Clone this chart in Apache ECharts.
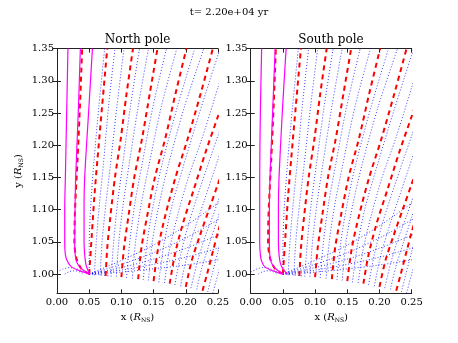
<!DOCTYPE html>
<html>
<head>
    <meta charset="utf-8">
    <title>ECharts</title>
    <script src="https://cdn.jsdelivr.net/npm/echarts@6/dist/echarts.min.js"></script>
</head>
<body style="margin:0;background:#fff;">
    <div id="main" style="width:458px;height:343px;"></div>
    <script type="text/javascript">
        // tick labels
        var xTicks = [0.00, 0.05, 0.10, 0.15, 0.20, 0.25];
        var yTicks = [1.00, 1.05, 1.10, 1.15, 1.20, 1.25, 1.30, 1.35];

        // red dashed field lines, [x, y] in R_NS
        var redLines = [
            [[0.050,1.000],[0.038,1.008],[0.030,1.025],[0.027,1.05],[0.028,1.10],[0.032,1.18],[0.036,1.27],[0.039,1.35]],
            [[0.050,1.000],[0.054,1.06],[0.058,1.12],[0.063,1.18],[0.070,1.26],[0.078,1.35]],
            [[0.0756,0.997],[0.078,1.04],[0.083,1.09],[0.090,1.15],[0.099,1.21],[0.108,1.28],[0.118,1.35]],
            [[0.100,0.995],[0.104,1.04],[0.111,1.09],[0.120,1.15],[0.132,1.21],[0.144,1.28],[0.156,1.35]],
            [[0.126,0.992],[0.131,1.04],[0.140,1.09],[0.152,1.15],[0.168,1.21],[0.184,1.28],[0.201,1.35]],
            [[0.150,0.989],[0.157,1.04],[0.168,1.09],[0.184,1.15],[0.203,1.21],[0.223,1.28],[0.242,1.35]],
            [[0.175,0.985],[0.183,1.03],[0.196,1.08],[0.212,1.13],[0.231,1.19],[0.250,1.245],[0.260,1.275]],
            [[0.200,0.980],[0.209,1.02],[0.222,1.06],[0.236,1.10],[0.250,1.14],[0.260,1.17]],
            [[0.226,0.974],[0.233,1.00],[0.242,1.035],[0.250,1.065],[0.260,1.10]]
        ];

        // blue dotted field lines rising from the surface
        var blueLines = [
            [[0.050,1.000],[0.050,1.04],[0.052,1.10],[0.057,1.17],[0.065,1.26],[0.074,1.35]],
            [[0.058,0.998],[0.061,1.05],[0.066,1.11],[0.072,1.17],[0.080,1.26],[0.090,1.35]],
            [[0.067,0.998],[0.070,1.05],[0.076,1.11],[0.083,1.17],[0.093,1.26],[0.104,1.35]],
            [[0.084,0.996],[0.088,1.05],[0.094,1.11],[0.102,1.17],[0.114,1.26],[0.128,1.35]],
            [[0.092,0.996],[0.096,1.05],[0.103,1.11],[0.112,1.17],[0.126,1.26],[0.142,1.35]],
            [[0.108,0.994],[0.113,1.05],[0.121,1.11],[0.132,1.17],[0.149,1.26],[0.170,1.35]],
            [[0.117,0.993],[0.122,1.05],[0.131,1.11],[0.143,1.17],[0.162,1.26],[0.186,1.35]],
            [[0.134,0.991],[0.140,1.05],[0.150,1.11],[0.163,1.17],[0.187,1.26],[0.214,1.35]],
            [[0.142,0.990],[0.148,1.05],[0.159,1.11],[0.173,1.17],[0.198,1.26],[0.228,1.35]],
            [[0.158,0.987],[0.165,1.04],[0.177,1.10],[0.194,1.16],[0.215,1.23],[0.237,1.30],[0.250,1.34],[0.260,1.37]],
            [[0.167,0.986],[0.174,1.035],[0.187,1.09],[0.204,1.15],[0.225,1.21],[0.244,1.27],[0.250,1.29],[0.260,1.32]],
            [[0.183,0.983],[0.192,1.03],[0.205,1.08],[0.221,1.13],[0.238,1.18],[0.250,1.215],[0.260,1.245]],
            [[0.192,0.981],[0.201,1.025],[0.214,1.07],[0.229,1.115],[0.244,1.16],[0.250,1.178],[0.260,1.21]],
            [[0.208,0.978],[0.217,1.015],[0.229,1.055],[0.242,1.09],[0.250,1.113],[0.260,1.14]],
            [[0.217,0.976],[0.225,1.01],[0.236,1.045],[0.250,1.088],[0.260,1.12]],
            [[0.234,0.972],[0.241,1.00],[0.250,1.035],[0.260,1.07]],
            [[0.242,0.970],[0.250,1.00],[0.260,1.035]]
        ];

        // blue dotted lines fanning right from the footpoint near x = 0.05
        var fanLines = [
            [[0.050,1.000],[0.065,0.999],[0.080,0.997]],
            [[0.050,1.000],[0.100,1.003],[0.150,1.008],[0.200,1.014],[0.250,1.022],[0.260,1.024]],
            [[0.050,1.000],[0.100,1.006],[0.150,1.015],[0.200,1.026],[0.250,1.040],[0.260,1.043]],
            [[0.050,1.000],[0.100,1.010],[0.150,1.023],[0.200,1.040],[0.250,1.060],[0.260,1.064]],
            [[0.050,1.000],[0.100,1.015],[0.150,1.033],[0.200,1.056],[0.250,1.084],[0.260,1.090]],
            [[0.050,1.000],[0.100,1.021],[0.150,1.045],[0.200,1.075],[0.250,1.110],[0.260,1.118]]
        ];

        // low closed loops left of the footpoint
        var loopLines = [
            [[0.000,1.003],[0.010,1.008],[0.020,1.010],[0.030,1.008],[0.040,1.004],[0.050,1.000]],
            [[0.012,1.000],[0.020,1.004],[0.028,1.005],[0.036,1.003],[0.042,1.000]]
        ];

        // magenta solid lines
        var northMagenta = [
            [[0.0497,1.000],[0.035,1.005],[0.0224,1.011],[0.016,1.02],[0.013,1.03],[0.012,1.048],[0.012,1.10],[0.013,1.15],[0.015,1.25],[0.017,1.35]],
            [[0.050,1.000],[0.042,1.005],[0.0352,1.011],[0.031,1.018],[0.029,1.024],[0.0275,1.042],[0.028,1.10],[0.029,1.15],[0.033,1.25],[0.0363,1.35]],
            [[0.051,1.000],[0.047,1.008],[0.0446,1.0166],[0.043,1.03],[0.042,1.05],[0.042,1.10],[0.043,1.15],[0.049,1.25],[0.055,1.35]]
        ];
        var southMagenta = [
            [[0.048,1.000],[0.034,1.005],[0.022,1.011],[0.017,1.02],[0.015,1.03],[0.014,1.048],[0.014,1.10],[0.014,1.15],[0.015,1.25],[0.017,1.35]],
            [[0.0506,1.000],[0.043,1.005],[0.036,1.011],[0.032,1.018],[0.030,1.026],[0.029,1.045],[0.029,1.10],[0.030,1.15],[0.034,1.25],[0.038,1.35]],
            [[0.057,1.000],[0.050,1.008],[0.046,1.017],[0.044,1.03],[0.043,1.05],[0.043,1.10],[0.044,1.15],[0.049,1.25],[0.055,1.35]]
        ];

        var myChart = echarts.init(document.getElementById('main'));
        var serif = 'DejaVu Serif';
        var lineCol = '#222';

        var grids = [
            {left: 57, top: 48.6, width: 161, height: 244.7},
            {left: 250.7, top: 48.6, width: 161, height: 244.7}
        ];

        var nameStyle = {fontFamily: serif, fontSize: 10, color: '#000',
            rich: {i: {fontFamily: serif, fontStyle: 'italic', fontSize: 10, color: '#000'},
                   s: {fontFamily: serif, fontSize: 6, color: '#000', verticalAlign: 'bottom', padding: [6, 0, 0, 0]}}};

        var xAxes = [], yAxes = [];
        for (var g = 0; g < 2; g++) {
            xAxes.push({
                type: 'value', gridIndex: g, min: 0, max: 0.25, interval: 0.05,
                position: 'bottom',
                name: 'x ({i|R}{s|NS})', nameLocation: 'middle', nameGap: 17,
                nameTextStyle: nameStyle,
                axisLine: {show: true, lineStyle: {color: lineCol, width: 1}},
                axisTick: {inside: true, length: 4, lineStyle: {color: lineCol}},
                axisLabel: {fontFamily: serif, fontSize: 10, color: '#000', margin: 4,
                    formatter: function (v) { return v.toFixed(2); }},
                splitLine: {show: false}
            });
            xAxes.push({
                type: 'value', gridIndex: g, min: 0, max: 0.25, interval: 0.05,
                position: 'top',
                axisLine: {show: true, lineStyle: {color: lineCol, width: 1}},
                axisTick: {inside: true, length: 4, lineStyle: {color: lineCol}},
                axisLabel: {show: false},
                splitLine: {show: false}
            });
            yAxes.push({
                type: 'value', gridIndex: g, min: 0.97, max: 1.35,
                position: 'left',
                name: g === 0 ? 'y ({i|R}{s|NS})' : '', nameLocation: 'middle', nameGap: 33,
                nameTextStyle: nameStyle,
                axisLine: {show: true, lineStyle: {color: lineCol, width: 1}},
                axisTick: {inside: true, length: 4, customValues: yTicks, lineStyle: {color: lineCol}},
                axisLabel: {fontFamily: serif, fontSize: 10, color: '#000', margin: 3, customValues: yTicks,
                    formatter: function (v) { return v.toFixed(2); }},
                splitLine: {show: false}
            });
            yAxes.push({
                type: 'value', gridIndex: g, min: 0.97, max: 1.35,
                position: 'right',
                axisLine: {show: true, lineStyle: {color: lineCol, width: 1}},
                axisTick: {inside: true, length: 4, customValues: yTicks, lineStyle: {color: lineCol}},
                axisLabel: {show: false},
                splitLine: {show: false}
            });
        }

        var series = [];
        function addLines(lines, g, style) {
            lines.forEach(function (pts) {
                series.push({
                    type: 'line', xAxisIndex: g * 2, yAxisIndex: g * 2,
                    data: pts, showSymbol: false, smooth: 0.3, silent: true,
                    clip: true, lineStyle: style
                });
            });
        }
        var blueStyle = {color: 'rgba(0,0,255,0.75)', width: 1, type: [1, 2]};
        var redStyle = {color: '#ff0000', width: 2, type: [5, 4]};
        var magStyle = {color: '#ff00ff', width: 1.2, type: 'solid'};

        for (var p = 0; p < 2; p++) {
            addLines(blueLines, p, blueStyle);
            addLines(fanLines, p, blueStyle);
            addLines(loopLines, p, blueStyle);
            addLines(redLines, p, redStyle);
            addLines(p === 0 ? northMagenta : southMagenta, p, magStyle);
        }

        var titleText = {fontFamily: serif, fontWeight: 'normal', color: '#000'};
        var option = {
            animation: false,
            backgroundColor: '#fff',
            title: [
                {text: 't= 2.20e+04 yr', left: 229, top: 7, padding: 0, textAlign: 'center',
                    textStyle: Object.assign({fontSize: 10}, titleText)},
                {text: 'North pole', left: 137.5, top: 34, padding: 0, textAlign: 'center',
                    textStyle: Object.assign({fontSize: 12}, titleText)},
                {text: 'South pole', left: 331, top: 34, padding: 0, textAlign: 'center',
                    textStyle: Object.assign({fontSize: 12}, titleText)}
            ],
            grid: grids,
            xAxis: xAxes,
            yAxis: yAxes,
            series: series
        };

        myChart.setOption(option);
    </script>
</body>
</html>
